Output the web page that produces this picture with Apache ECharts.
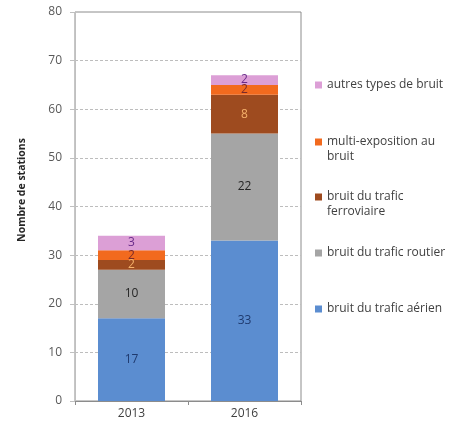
<!DOCTYPE html>
<html><head><meta charset="utf-8">
<script src="https://cdn.jsdelivr.net/npm/echarts@6/dist/echarts.min.js"></script>
<style>html,body{margin:0;padding:0;background:#fff}#c{width:456px;height:425px}</style>
</head><body><div id="c"></div>
<script>
const categories = ['2013', '2016'];
const aerien = [17, 33];
const routier = [10, 22];
const ferroviaire = [2, 8];
const multi = [2, 2];
const autres = [3, 2];
const yTicks = [0, 10, 20, 30, 40, 50, 60, 70, 80];

const names = ['bruit du trafic aérien', 'bruit du trafic routier', 'bruit du trafic ferroviaire', 'multi-exposition au bruit', 'autres types de bruit'];
const legendText = {
  'bruit du trafic aérien': 'bruit du trafic aérien',
  'bruit du trafic routier': 'bruit du trafic routier',
  'bruit du trafic ferroviaire': '\nbruit du trafic\nferroviaire',
  'multi-exposition au bruit': '\nmulti-exposition au\nbruit',
  'autres types de bruit': 'autres types de bruit'
};
const colors = ['#5b8dd0', '#a5a5a5', '#9e4b1f', '#f26a1e', '#dc9fd6'];
const labelColors = ['#1f3a6e', '#262626', '#f6b26b', '#7a2a2a', '#6a2c8a'];
const dataSets = [aerien, routier, ferroviaire, multi, autres];
const font = '"Open Sans", "Noto Sans", sans-serif';

const chart = echarts.init(document.getElementById('c'));
const legendCenters = {  // icon center y
  'autres types de bruit': 85,
  'multi-exposition au bruit': 142,
  'bruit du trafic ferroviaire': 197,
  'bruit du trafic routier': 253,
  'bruit du trafic aérien': 309
};
const LH = 15;
const legends = names.map(n => {
  const lines = legendText[n].split('\n').length;
  return {
    data: [n],
    left: 315,
    top: legendCenters[n] - lines * LH / 2,
    padding: 0,
    itemWidth: 7, itemHeight: 7, icon: 'rect',
    selectedMode: false,
    formatter: nm => legendText[nm],
    textStyle: {fontFamily: font, fontSize: 12, color: '#404040', lineHeight: LH}
  };
});

chart.setOption({
  animation: false,
  textStyle: {fontFamily: font},
  legend: legends,
  grid: {left: 75, right: 155, top: 12, bottom: 24, show: true, borderColor: '#8c8c8c', borderWidth: 1},
  xAxis: {
    type: 'category', data: categories,
    axisLine: {lineStyle: {color: '#8c8c8c'}},
    axisTick: {show: true, length: 4, lineStyle: {color: '#8c8c8c'}},
    axisLabel: {color: '#404040', fontSize: 12, margin: 7, fontFamily: font}
  },
  yAxis: {
    type: 'value', min: yTicks[0], max: yTicks[yTicks.length - 1], interval: 10,
    name: 'Nombre de stations', nameLocation: 'middle', nameGap: 47,
    nameTextStyle: {fontSize: 10.5, fontWeight: 'bold', color: '#262626', fontFamily: font, padding: [0, 0, 0, 33]},
    axisLine: {show: true, lineStyle: {color: '#c0c0c0'}},
    axisTick: {show: true, length: 5, lineStyle: {color: '#c0c0c0'}},
    axisLabel: {color: '#595959', fontSize: 12, margin: 13, fontFamily: font},
    splitLine: {show: true, showMaxLine: false, lineStyle: {color: '#bdbdbd', type: [3, 2]}}
  },
  series: names.map((n, i) => ({
    name: n, type: 'bar', stack: 'total', barWidth: 67,
    data: dataSets[i],
    itemStyle: {color: colors[i]},
    label: {show: true, position: 'inside', color: labelColors[i], fontSize: 12, fontFamily: font}
  }))
});
</script></body></html>
